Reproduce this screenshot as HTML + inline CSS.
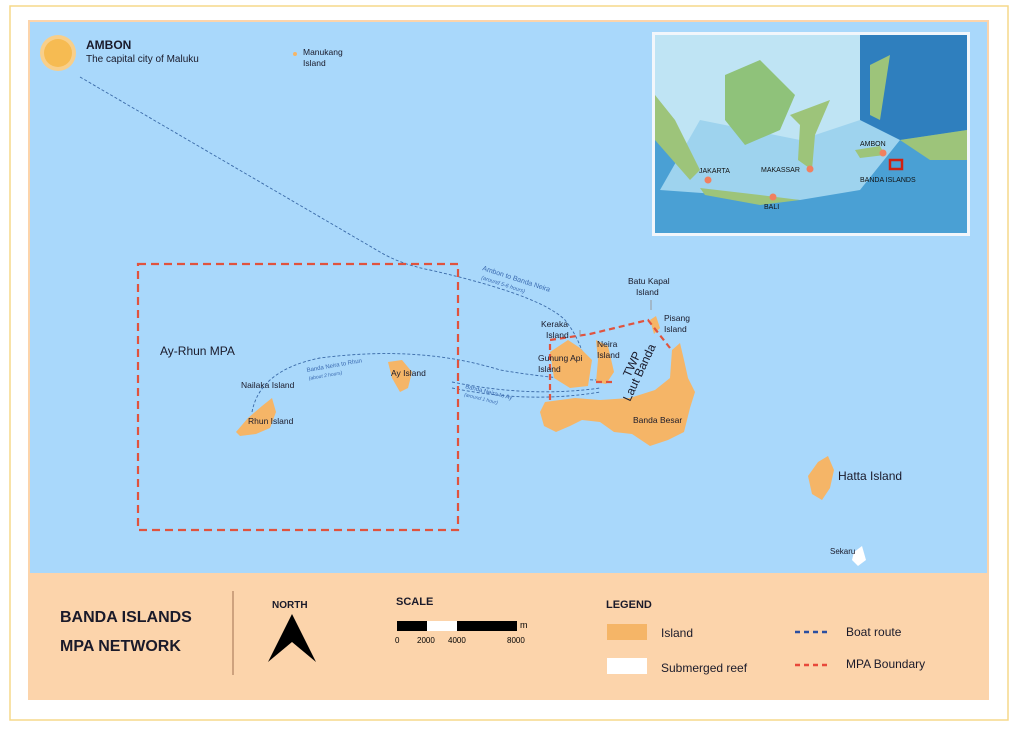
<!DOCTYPE html>
<html><head><meta charset="utf-8"><style>
body{margin:0;background:#fff;width:1024px;height:732px;overflow:hidden}
svg{display:block}
text{font-family:"Liberation Sans",sans-serif}
</style></head><body>
<svg width="1024" height="732" viewBox="0 0 1024 732">
<rect x="10" y="6" width="998" height="714" fill="#fff" stroke="#f5d98a" stroke-width="1.5"/>
<rect x="28" y="20" width="961" height="680" fill="#fcd4ab"/>
<rect x="30" y="22" width="957" height="551" fill="#a9d8fb"/>
<!-- Ambon -->
<circle cx="58" cy="53" r="18" fill="#f8cf8a"/>
<circle cx="58" cy="53" r="14" fill="#f6bb52"/>
<text x="86" y="49" font-size="12" font-weight="bold" fill="#1a1a2a">AMBON</text>
<text x="86" y="62" font-size="10" fill="#1a1a2a">The capital city of Maluku</text>
<circle cx="295" cy="54" r="2" fill="#f5b567"/>
<text x="303" y="55" font-size="8.5" fill="#1a1a2a">Manukang</text>
<text x="303" y="66" font-size="8.5" fill="#1a1a2a">Island</text>
<!-- routes -->
<g fill="none" stroke="#3a6aa8" stroke-width="0.9" stroke-dasharray="3,2">
<path d="M80 77 L380 252 Q400 264 430 270 Q540 295 565 320 Q585 345 588 380"/>
<path d="M252 412 Q260 370 320 358 Q420 345 500 370 Q560 380 600 380"/>
<path d="M452 382 Q530 398 600 388"/>
<path d="M452 388 Q530 404 600 392"/>
</g>
<text font-size="7" fill="#3a6ab0" transform="translate(482,270) rotate(18)">Ambon to Banda Neira</text>
<text font-size="5.5" font-style="italic" fill="#3a6ab0" transform="translate(481,279) rotate(18)">(around 5-6 hours)</text>
<text font-size="6" fill="#3a6ab0" transform="translate(307,372) rotate(-10)">Banda Neira to Rhun</text>
<text font-size="5" font-style="italic" fill="#3a6ab0" transform="translate(309,380) rotate(-10)">(about 2 hours)</text>
<text font-size="6" fill="#3a6ab0" transform="translate(465,388) rotate(14)">Banda Neira to Ay</text>
<text font-size="5" font-style="italic" fill="#3a6ab0" transform="translate(464,396) rotate(14)">(around 1 hour)</text>
<!-- MPA box -->
<rect x="138" y="264" width="320" height="266" fill="none" stroke="#e0533e" stroke-width="2.2" stroke-dasharray="8,5"/>
<text x="160" y="355" font-size="12" fill="#1a1a2a">Ay-Rhun MPA</text>
<!-- islands -->
<g fill="#f5b567">
<path d="M236 432 L248 418 L262 406 L272 398 L276 412 L270 428 L256 434 L240 436Z"/>
<path d="M388 362 L402 360 L412 372 L408 388 L400 392 L392 378Z"/>
<path d="M550 352 L568 340 L580 348 L592 360 L588 386 L570 388 L554 378Z"/>
<path d="M596 340 L608 346 L614 372 L606 384 L596 382 L598 360Z"/>
<path d="M545 402 L575 398 L600 400 L630 398 L655 390 L670 378 L672 350 L680 343 L684 360 L688 378 L695 392 L690 408 L684 432 L668 440 L650 446 L632 434 L614 432 L600 422 L582 420 L570 426 L556 432 L544 426 L540 412Z"/>
<path d="M650 320 L656 316 L660 328 L654 334Z"/>
<path d="M818 462 L828 456 L834 470 L830 488 L822 500 L812 494 L808 476Z"/>
</g>
<path d="M854 552 L862 546 L866 560 L858 566 L852 560Z" fill="#fff"/>
<g fill="none" stroke="#e0533e" stroke-width="2.2" stroke-dasharray="6,4">
<path d="M550 400 L550 340 L590 334 L648 320 L670 348"/>
<path d="M596 382 L612 382"/>
</g>
<line x1="651" y1="300" x2="651" y2="310" stroke="#999" stroke-width="1"/>
<line x1="580" y1="330" x2="580" y2="336" stroke="#999" stroke-width="1"/>
<g font-size="8.5" fill="#1a1a2a">
<text x="241" y="388">Nailaka Island</text>
<text x="248" y="424">Rhun Island</text>
<text x="391" y="376">Ay Island</text>
<text x="541" y="327">Keraka</text><text x="546" y="338">Island</text>
<text x="538" y="361">Gunung Api</text><text x="538" y="372">Island</text>
<text x="597" y="347">Neira</text><text x="597" y="358">Island</text>
<text x="628" y="284">Batu Kapal</text><text x="636" y="295">Island</text>
<text x="664" y="321">Pisang</text><text x="664" y="332">Island</text>
<text x="633" y="423">Banda Besar</text>
<text x="830" y="554" font-size="8">Sekaru</text>
</g>
<text x="838" y="480" font-size="12" fill="#1a1a2a">Hatta Island</text>
<text font-size="12" fill="#1a1a2a" transform="translate(630,378) rotate(-65)">TWP</text>
<text font-size="12" fill="#1a1a2a" transform="translate(630,402) rotate(-65)">Laut Banda</text>
<!-- inset -->
<rect x="652" y="32" width="318" height="204" fill="#f2f6fb"/>
<rect x="655" y="35" width="312" height="198" fill="#4aa0d4"/>
<path d="M655 35 L860 35 L860 140 L820 150 L760 160 L655 140Z" fill="#bfe4f4"/>
<path d="M860 35 L967 35 L967 130 L900 140 L860 140Z" fill="#2f7fbe"/>
<path d="M700 120 L660 190 L800 200 L860 190 L900 140 L860 120 L800 140Z" fill="#9ed3ee"/>
<path d="M725 75 L760 60 L795 95 L780 130 L745 145 L725 120Z" fill="#8fc27a"/>
<path d="M790 115 L830 100 L815 135 L812 170 L798 160 L800 125Z" fill="#9dc47a"/>
<path d="M655 95 L675 120 L700 170 L690 180 L655 140Z" fill="#9dc47a"/>
<path d="M700 188 L760 195 L800 200 L760 205 L705 195Z" fill="#9dc47a"/>
<path d="M900 140 L967 130 L967 160 L930 160Z" fill="#9dc47a"/>
<path d="M855 150 L880 146 L885 155 L860 158Z" fill="#9dc47a"/>
<path d="M870 65 L890 55 L880 120 L870 115Z" fill="#9dc47a"/>
<circle cx="708" cy="180" r="3.5" fill="#f08060"/>
<circle cx="810" cy="169" r="3.5" fill="#f08060"/>
<circle cx="773" cy="197" r="3.5" fill="#f08060"/>
<circle cx="883" cy="153" r="3.5" fill="#f08060"/>
<rect x="890" y="160" width="12" height="9" fill="none" stroke="#d02010" stroke-width="2.5"/>
<g font-size="7" fill="#111">
<text x="699" y="173">JAKARTA</text>
<text x="761" y="172">MAKASSAR</text>
<text x="764" y="209">BALI</text>
<text x="860" y="146">AMBON</text>
<text x="860" y="182">BANDA ISLANDS</text>
</g>
<!-- bottom panel -->
<text x="60" y="622" font-size="16" font-weight="bold" fill="#1a1a2a">BANDA ISLANDS</text>
<text x="60" y="651" font-size="16" font-weight="bold" fill="#1a1a2a">MPA NETWORK</text>
<line x1="233" y1="591" x2="233" y2="675" stroke="#a07050" stroke-width="1"/>
<text x="272" y="608" font-size="10" font-weight="bold" fill="#1a1a2a">NORTH</text>
<path d="M292 614 L268 662 L292 642 L316 662Z" fill="#000"/>
<text x="396" y="605" font-size="11" font-weight="bold" fill="#1a1a2a">SCALE</text>
<rect x="397" y="621" width="30" height="10" fill="#000"/>
<rect x="427" y="621" width="30" height="10" fill="#fff"/>
<rect x="457" y="621" width="60" height="10" fill="#000"/>
<text x="520" y="628" font-size="9">m</text>
<g font-size="8"><text x="395" y="643">0</text><text x="417" y="643">2000</text><text x="448" y="643">4000</text><text x="507" y="643">8000</text></g>
<text x="606" y="608" font-size="11" font-weight="bold" fill="#1a1a2a">LEGEND</text>
<rect x="607" y="624" width="40" height="16" fill="#f5b567"/>
<text x="661" y="637" font-size="12" fill="#1a1a2a">Island</text>
<rect x="607" y="658" width="40" height="16" fill="#fff"/>
<text x="661" y="672" font-size="12" fill="#1a1a2a">Submerged reef</text>
<line x1="795" y1="632" x2="830" y2="632" stroke="#2a4fa0" stroke-width="2.5" stroke-dasharray="5,4"/>
<text x="846" y="636" font-size="12" fill="#1a1a2a">Boat route</text>
<line x1="795" y1="665" x2="830" y2="665" stroke="#e8483a" stroke-width="2.5" stroke-dasharray="5,4"/>
<text x="846" y="668" font-size="12" fill="#1a1a2a">MPA Boundary</text>
</svg>
</body></html>
